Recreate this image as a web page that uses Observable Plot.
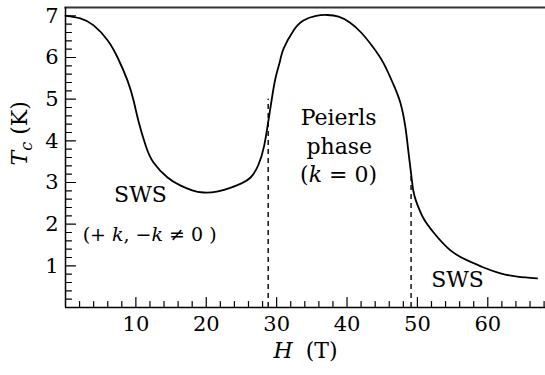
<!DOCTYPE html>
<html>
<head>
<meta charset="utf-8">
<script src="https://cdn.jsdelivr.net/npm/d3@7"></script>
<script src="https://cdn.jsdelivr.net/npm/@observablehq/plot@0.6"></script>
<style>
  html, body { margin: 0; padding: 0; background: white; }
</style>
</head>
<body>
<div id="chart"></div>
<script>
// Curve: critical temperature Tc (K) versus field H (T)
const H  = [0, 2.1, 4.0, 6.0, 7.4, 8.8, 9.7, 10.4, 11.4, 12.5, 14.5, 16.3, 18.0, 19.6, 21.5, 23.4, 25.0, 26.3, 27.4, 28.2, 28.8, 29.4, 29.9, 30.5, 31.0, 32.4, 33.8, 35.6, 37.2, 38.8, 40.4, 42.0, 43.6, 45.2, 46.6, 47.6, 48.3, 48.7, 49.1, 49.4, 49.8, 50.4, 51.0, 52.3, 54.7, 57.1, 59.4, 61.8, 64.2, 67.0];
const Tc = [7.0, 6.94, 6.77, 6.41, 6.0, 5.45, 4.95, 4.45, 3.88, 3.48, 3.12, 2.93, 2.81, 2.76, 2.78, 2.87, 2.98, 3.12, 3.42, 3.86, 4.45, 5.1, 5.55, 5.93, 6.22, 6.65, 6.89, 7.0, 7.02, 6.98, 6.84, 6.6, 6.27, 5.86, 5.35, 4.9, 4.32, 3.77, 3.22, 2.82, 2.56, 2.3, 2.1, 1.8, 1.37, 1.13, 0.96, 0.82, 0.74, 0.70];

// Phase boundaries (dashed lines)
const boundaryH  = [28.8, 49.1];
const boundaryTc = [5.0, 3.2];

// Annotations
const annotText = ["SWS", "(+ k, −k ≠ 0 )", "Peierls", "phase", "(k = 0)", "SWS"];
const annotH    = [10.65, 11.95, 38.8, 38.9, 38.8, 55.7];
const annotTc   = [2.69, 1.75, 4.56, 3.86, 3.17, 0.65];

// Ticks
const xMajor = [10, 20, 30, 40, 50, 60];
const xMinor = [2, 4, 6, 8, 12, 14, 16, 18, 22, 24, 26, 28, 32, 34, 36, 38, 42, 44, 46, 48, 52, 54, 56, 58, 62, 64, 66, 68];
const yMajor = [1, 2, 3, 4, 5, 6, 7];
const yMinor = [0.2, 0.4, 0.6, 0.8, 1.2, 1.4, 1.6, 1.8, 2.2, 2.4, 2.6, 2.8, 3.2, 3.4, 3.6, 3.8, 4.2, 4.4, 4.6, 4.8, 5.2, 5.4, 5.6, 5.8, 6.2, 6.4, 6.6, 6.8];

const xLabel = "H (T)";
const yLabel = "Tc (K)";

const curve = H.map((h, i) => ({h, t: Tc[i]}));
const bounds = boundaryH.map((h, i) => ({h, t: boundaryTc[i]}));
const annots = annotText.map((s, i) => ({s, h: annotH[i], t: annotTc[i]}));

const tickShape = {draw(ctx, l) { ctx.moveTo(0, 0); ctx.lineTo(0, -l); }};
const font = "DejaVu Serif";

const chart = Plot.plot({
  width: 545,
  height: 375,
  marginLeft: 65,
  marginRight: 0,
  marginTop: 7,
  marginBottom: 68,
  x: {domain: [0, 68.2]},
  y: {domain: [0, 7.2]},
  style: {fontFamily: font, color: "black", background: "white"},
  marks: [
    Plot.frame({anchor: "top", stroke: "#333", strokeWidth: 2}),
    Plot.ruleX([0], {stroke: "black", strokeWidth: 1.5}),
    Plot.ruleY([0], {stroke: "black", strokeWidth: 1.5}),
    Plot.vector(xMajor, {x: d => d, frameAnchor: "bottom", length: 10, anchor: "start", shape: tickShape, stroke: "black", strokeWidth: 1.2}),
    Plot.vector(xMinor, {x: d => d, frameAnchor: "bottom", length: 6, anchor: "start", shape: tickShape, stroke: "black", strokeWidth: 1.2}),
    Plot.vector(yMajor, {y: d => d, frameAnchor: "left", length: 10, rotate: 90, anchor: "start", shape: tickShape, stroke: "black", strokeWidth: 1.2}),
    Plot.vector(yMinor, {y: d => d, frameAnchor: "left", length: 6, rotate: 90, anchor: "start", shape: tickShape, stroke: "black", strokeWidth: 1.2}),
    Plot.axisX(xMajor, {tickSize: 0, tickPadding: 9, fontSize: 21, fontFamily: font, label: null}),
    Plot.axisY(yMajor, {tickSize: 0, tickPadding: 7, fontSize: 21, fontFamily: font, label: null}),
    Plot.ruleX(bounds, {x: "h", y1: 0, y2: "t", stroke: "black", strokeWidth: 1.4, strokeDasharray: "5,4"}),
    Plot.line(curve, {x: "h", y: "t", curve: "natural", stroke: "black", strokeWidth: 1.8}),
    Plot.text(annots, {x: "h", y: "t", text: "s", fontSize: 22, fontFamily: font, fill: "black"}),
    Plot.text([xLabel], {frameAnchor: "bottom", dy: 50, fontSize: 22, fontFamily: font, fill: "black"}),
    Plot.text([yLabel], {frameAnchor: "left", rotate: -90, dx: -46, dy: 8, fontSize: 22, fontFamily: font, fill: "black"})
  ]
});

document.getElementById("chart").appendChild(chart);

// Typographic touches: italic variables, subscript
d3.select(chart).selectAll("text").each(function() {
  const el = d3.select(this);
  const s = this.textContent;
  if (s === "(+ k, −k ≠ 0 )") {
    el.text(null).attr("font-size", 19);
    el.append("tspan").text("(+ ");
    el.append("tspan").attr("font-style", "italic").text("k");
    el.append("tspan").text(", −");
    el.append("tspan").attr("font-style", "italic").text("k");
    el.append("tspan").text(" ≠ 0 )");
  } else if (s === "(k = 0)") {
    el.text(null);
    el.append("tspan").text("(");
    el.append("tspan").attr("font-style", "italic").text("k");
    el.append("tspan").text(" = 0)");
  } else if (s === xLabel) {
    el.text(null);
    el.append("tspan").attr("font-style", "italic").text("H");
    el.append("tspan").attr("dx", 6).text(" (T)");
  } else if (s === yLabel) {
    el.text(null);
    el.append("tspan").attr("font-style", "italic").text("T");
    el.append("tspan").attr("font-style", "italic").attr("font-size", 16).attr("dy", 5).text("c");
    el.append("tspan").attr("dy", -5).text(" (K)");
  }
});
</script>
</body>
</html>
